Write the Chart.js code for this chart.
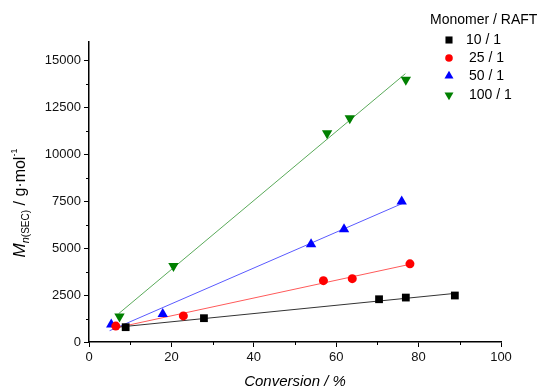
<!DOCTYPE html>
<html>
<head>
<meta charset="utf-8">
<script src="https://cdn.jsdelivr.net/npm/chart.js@4/dist/chart.umd.min.js"></script>
<style>
  body { margin: 0; background: #fff; }
  #wrap { width: 549px; height: 390px; }
</style>
</head>
<body>
<div id="wrap"><canvas id="chart" width="549" height="390"></canvas></div>
<script>
// measured points (conversion %, Mn g/mol)
const conv10 = [8.9, 27.9, 70.4, 76.9, 88.8];
const mn10 = [790, 1270, 2280, 2370, 2480];
const conv25 = [6.5, 22.9, 56.9, 63.9, 77.9];
const mn25 = [850, 1390, 3270, 3380, 4170];
const conv50 = [5.4, 17.9, 53.9, 61.9, 75.9];
const mn50 = [940, 1500, 5220, 6010, 7490];
const conv100 = [7.4, 20.5, 57.8, 63.3, 76.9];
const mn100 = [1360, 4060, 11140, 11940, 13990];

// linear fit lines, start and end
const fitConv10 = [6.5, 89];
const fitMn10 = [780, 2596];
const fitConv25 = [6, 78];
const fitMn25 = [732, 4149];
const fitConv50 = [5, 76];
const fitMn50 = [603, 7383];
const fitConv100 = [7.2, 76.8];
const fitMn100 = [1513, 14312];

const seriesLabels = ['10 / 1', '25 / 1', '50 / 1', '100 / 1'];
const xTicks = [0, 20, 40, 60, 80, 100];
const xMinor = [10, 30, 50, 70, 90];
const yTicks = [0, 2500, 5000, 7500, 10000, 12500, 15000];
const yMinor = [1250, 3750, 6250, 8750, 11250, 13750];

const pointColors = ['#000000', '#ff0000', '#0000ff', '#008000'];
const lineColors = ['#333333', '#ff5a5a', '#5a5aff', '#5aaa5a'];
const pointStyles = ['rect', 'circle', 'triangle', 'triangle'];
const pointRots = [0, 0, 0, 180];
const pointSizes = [5.5, 4.5, 6, 6];
const legendSizes = [5, 3.8, 5.2, 5.2];

const font = 'Arial, "Liberation Sans", sans-serif';

function toXY(xs, ys) {
    return xs.map((x, i) => ({ x: x, y: ys[i] }));
}

const pointSets = [[conv10, mn10], [conv25, mn25], [conv50, mn50], [conv100, mn100]];
const fitSets = [[fitConv10, fitMn10], [fitConv25, fitMn25], [fitConv50, fitMn50], [fitConv100, fitMn100]];

const datasets = [];
pointSets.forEach((s, i) => {
    datasets.push({
        label: seriesLabels[i],
        data: toXY(s[0], s[1]),
        showLine: false,
        pointStyle: pointStyles[i],
        rotation: pointRots[i],
        pointRadius: pointSizes[i],
        backgroundColor: pointColors[i],
        borderColor: pointColors[i],
        borderWidth: 0,
        order: 1
    });
});
fitSets.forEach((s, i) => {
    datasets.push({
        label: 'fit ' + seriesLabels[i],
        data: toXY(s[0], s[1]),
        showLine: true,
        pointRadius: 0,
        borderColor: lineColors[i],
        borderWidth: 1,
        order: 2
    });
});

// axis titles, minor ticks and the legend box
const extras = {
    id: 'extras',
    afterDraw(chart) {
        const ctx = chart.ctx;
        const xs = chart.scales.x, ys = chart.scales.y;
        const area = chart.chartArea;
        ctx.save();
        ctx.strokeStyle = '#000';
        ctx.lineWidth = 1;
        ctx.beginPath();
        xMinor.forEach(v => {
            const px = Math.round(xs.getPixelForValue(v)) + 0.5;
            ctx.moveTo(px, area.bottom);
            ctx.lineTo(px, area.bottom + 3);
        });
        yMinor.forEach(v => {
            const py = Math.round(ys.getPixelForValue(v)) + 0.5;
            ctx.moveTo(area.left, py);
            ctx.lineTo(area.left - 3, py);
        });
        ctx.stroke();

        // x title
        ctx.fillStyle = '#000';
        ctx.font = 'italic 15px ' + font;
        ctx.textAlign = 'center';
        ctx.textBaseline = 'middle';
        ctx.fillText('Conversion / %', (area.left + area.right) / 2, 382);

        // y title, rotated
        const parts = [
            { t: 'M', f: 'italic 17px ' + font, dy: 0 },
            { t: 'n', f: 'italic 11px ' + font, dy: 4 },
            { t: '(SEC)', f: '10px ' + font, dy: 4 },
            { t: ' / g\u00b7mol', f: '16px ' + font, dy: 0 },
            { t: '-1', f: '9px ' + font, dy: -8 }
        ];
        ctx.textAlign = 'left';
        ctx.textBaseline = 'alphabetic';
        let total = 0;
        parts.forEach(p => { ctx.font = p.f; p.w = ctx.measureText(p.t).width; total += p.w; });
        ctx.translate(25, 203);
        ctx.rotate(-Math.PI / 2);
        let cx = -total / 2;
        parts.forEach(p => {
            ctx.font = p.f;
            ctx.fillText(p.t, cx, p.dy);
            cx += p.w;
        });
        ctx.restore();

        // legend
        ctx.save();
        ctx.fillStyle = '#000';
        ctx.font = '14px ' + font;
        ctx.textAlign = 'left';
        ctx.textBaseline = 'middle';
        ctx.fillText('Monomer / RAFT', 430, 20);
        const rowY = [40, 58, 76, 95];
        const textX = [466, 469, 469, 469];
        seriesLabels.forEach((lab, i) => {
            ctx.fillStyle = pointColors[i];
            Chart.helpers.drawPoint(ctx, {
                pointStyle: pointStyles[i],
                rotation: pointRots[i],
                radius: legendSizes[i],
                borderWidth: 0
            }, 449, rowY[i]);
            ctx.fillStyle = '#000';
            ctx.fillText(lab, textX[i], rowY[i]);
        });
        ctx.restore();
    }
};

const ctx = document.getElementById('chart').getContext('2d');
const chart = new Chart(ctx, {
    type: 'scatter',
    data: { datasets: datasets },
    options: {
        responsive: false,
        animation: false,
        layout: { padding: { top: 42, right: 48, left: 0, bottom: 0 } },
        plugins: {
            legend: { display: false },
            tooltip: { enabled: false }
        },
        scales: {
            x: {
                type: 'linear',
                min: 0,
                max: 100,
                afterFit: s => { s.height = 48; },
                afterBuildTicks: s => { s.ticks = xTicks.map(v => ({ value: v })); },
                grid: { drawOnChartArea: false, tickLength: 5, color: '#000', lineWidth: 1 },
                border: { color: '#000', width: 1.5 },
                ticks: { color: '#111', padding: 3, font: { family: font, size: 13 }, maxRotation: 0,
                         callback: v => String(v) }
            },
            y: {
                type: 'linear',
                min: 0,
                max: 16000,
                afterFit: s => { s.width = 89; },
                afterBuildTicks: s => { s.ticks = yTicks.map(v => ({ value: v })); },
                grid: { drawOnChartArea: false, tickLength: 5, color: '#000', lineWidth: 1 },
                border: { color: '#000', width: 1.5 },
                ticks: { color: '#111', padding: 3, font: { family: font, size: 13 },
                         callback: v => String(v) }
            }
        }
    },
    plugins: [extras]
});
</script>
</body>
</html>
